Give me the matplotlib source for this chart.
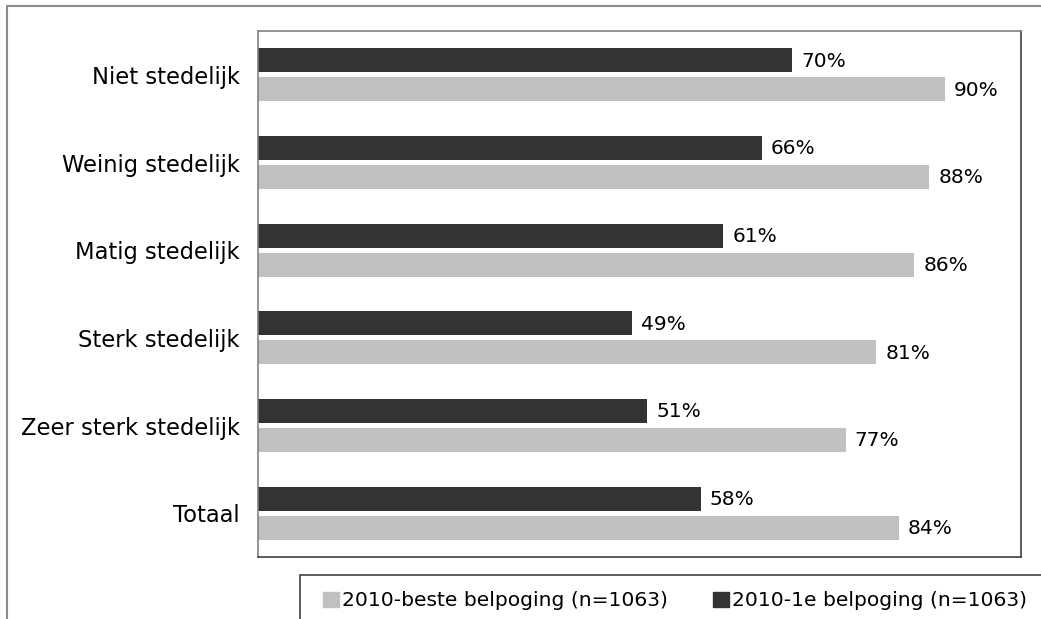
import matplotlib.pyplot as plt
from matplotlib.patches import Rectangle, Patch
import numpy as np

# data (top to bottom)
categorieen = ['Niet stedelijk', 'Weinig stedelijk', 'Matig stedelijk',
               'Sterk stedelijk', 'Zeer sterk stedelijk', 'Totaal']
eerste_poging = [70, 66, 61, 49, 51, 58]
beste_poging = [90, 88, 86, 81, 77, 84]
reeksen = ['2010-beste belpoging (n=1063)', '2010-1e belpoging (n=1063)']

kleur_donker = '#333333'
kleur_licht = '#c0c0c0'

W, H = 1041, 619
fig = plt.figure(figsize=(W / 100, H / 100), dpi=100)
plt.rcParams['font.family'] = 'DejaVu Sans'

# outer chart border (right and bottom fall outside the image)
fig.patches.append(Rectangle((7 / W, -0.1), 1.0, 1.1 - 6 / H,
                             transform=fig.transFigure, fill=False,
                             edgecolor='#8c8c8c', linewidth=1.5))

ax = fig.add_axes([258 / W, (H - 557) / H, (1021 - 258) / W, (557 - 31) / H])

y = np.arange(len(categorieen))
h = 0.274
gap = 0.057
ax.barh(y - (h + gap) / 2, eerste_poging, height=h, color=kleur_donker)
ax.barh(y + (h + gap) / 2, beste_poging, height=h, color=kleur_licht)

for i in range(len(categorieen)):
    ax.text(eerste_poging[i] + 1.2, y[i] - (h + gap) / 2 + 0.01, f'{eerste_poging[i]}%',
            va='center', ha='left', fontsize=14.5, color='black')
    ax.text(beste_poging[i] + 1.2, y[i] + (h + gap) / 2 + 0.01, f'{beste_poging[i]}%',
            va='center', ha='left', fontsize=14.5, color='black')

ax.set_xlim(0, 100)
ax.set_ylim(len(categorieen) - 0.5, -0.5)
ax.set_yticks(y)
ax.set_yticklabels(categorieen, fontsize=16.3)
ax.set_xticks([])
ax.tick_params(axis='y', length=0, pad=13)
ax.spines['top'].set_color('#808080')
ax.spines['left'].set_color('#808080')
ax.spines['right'].set_color('#404040')
ax.spines['bottom'].set_color('#404040')
for s in ax.spines.values():
    s.set_linewidth(1.2)

# legend box
fig.patches.append(Rectangle((300 / W, -0.1), 0.8, 0.1 + (H - 575) / H,
                             transform=fig.transFigure, fill=False,
                             edgecolor='#404040', linewidth=1.2))
handles = [Patch(color=kleur_licht), Patch(color=kleur_donker)]
fig.legend(handles, reeksen, loc='center left',
           bbox_to_anchor=(315 / W, (H - 601) / H), ncol=2, frameon=False,
           fontsize=14.6, handlelength=0.8, handleheight=0.8,
           handletextpad=0.15, columnspacing=2.2, borderaxespad=0)

fig.savefig('out.png', dpi=100)
